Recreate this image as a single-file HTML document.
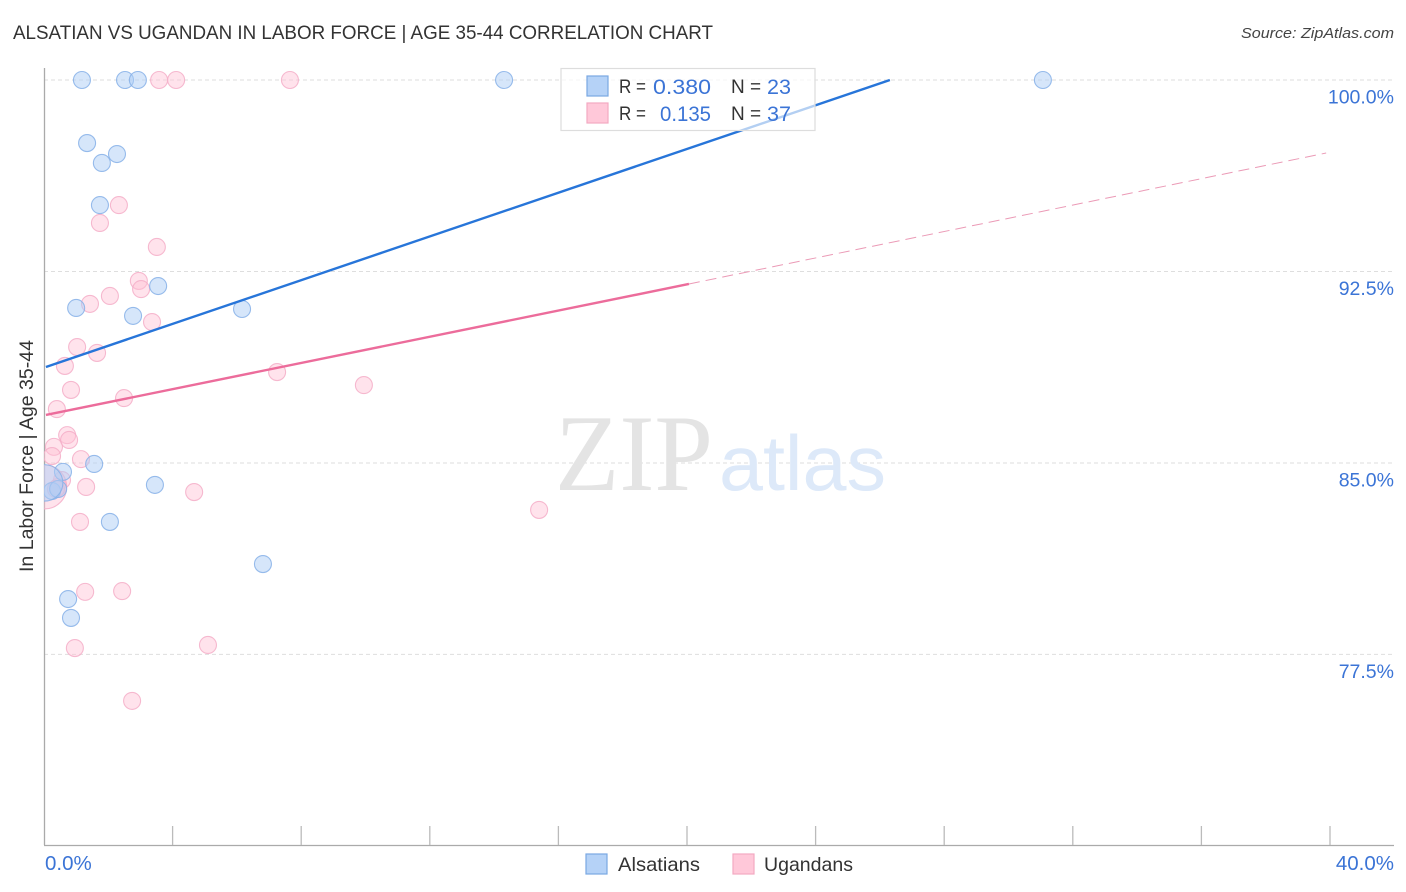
<!DOCTYPE html>
<html>
<head>
<meta charset="utf-8">
<title>Alsatian vs Ugandan in Labor Force | Age 35-44 Correlation Chart</title>
<style>
html,body{margin:0;padding:0;background:#fff;}
body{width:1406px;height:892px;overflow:hidden;}
svg{display:block;}
text{font-family:"Liberation Sans",sans-serif;}
</style>
</head>
<body>
<svg id="chart" width="1406" height="892" viewBox="0 0 1406 892" xmlns="http://www.w3.org/2000/svg">
  <defs>
    <clipPath id="plot-clip"><rect x="44" y="60" width="1350" height="785"></rect></clipPath>
  </defs>
  <text x="13" y="39" font-size="19" fill="#333" textLength="700" lengthAdjust="spacingAndGlyphs">ALSATIAN VS UGANDAN IN LABOR FORCE | AGE 35-44 CORRELATION CHART</text>
  <text x="1241" y="38" font-size="15" font-style="italic" fill="#444" textLength="153" lengthAdjust="spacingAndGlyphs">Source: ZipAtlas.com</text>

  <g id="grid"></g>

  <g>
    <text x="555" y="490" font-size="109" fill="#e4e4e4" style="font-family:'Liberation Serif',serif" textLength="158" lengthAdjust="spacingAndGlyphs">ZIP</text>
    <text x="719" y="490" font-size="78" fill="#dde9f9" textLength="167" lengthAdjust="spacingAndGlyphs">atlas</text>
  </g>

  <g id="axes">
    <line x1="44.5" y1="68" x2="44.5" y2="845" stroke="#aaa" stroke-width="1.3"></line>
    <line x1="44" y1="845.5" x2="1394" y2="845.5" stroke="#aaa" stroke-width="1.3"></line>
  </g>
  <g id="x-ticks"></g>
  <g id="y-labels"></g>
  <g id="x-labels"></g>

  <text transform="translate(33,572) rotate(-90)" font-size="19" fill="#333" textLength="232" lengthAdjust="spacingAndGlyphs">In Labor Force | Age 35-44</text>

  <g id="points" clip-path="url(#plot-clip)"></g>
  <g id="trends" clip-path="url(#plot-clip)"></g>

  <g>
    <rect x="561" y="68.5" width="254" height="62" fill="#fff" fill-opacity="0.65" stroke="#ddd" stroke-width="1.2"></rect>
    <rect x="587" y="76" width="21" height="20" fill="#b5d2f7" stroke="#7aa8e2" stroke-width="1.2"></rect>
    <rect x="587" y="103" width="21" height="20" fill="#ffc8d9" stroke="#f2a9c2" stroke-width="1.2"></rect>
    <text x="619" y="93" font-size="19" fill="#333" textLength="27" lengthAdjust="spacingAndGlyphs">R =</text>
    <text x="653" y="94" font-size="21" fill="#3b74d6" textLength="58" lengthAdjust="spacingAndGlyphs">0.380</text>
    <text x="731" y="93" font-size="19" fill="#333">N =</text>
    <text x="767" y="94" font-size="21" fill="#3b74d6" textLength="24" lengthAdjust="spacingAndGlyphs">23</text>
    <text x="619" y="120" font-size="19" fill="#333" textLength="27" lengthAdjust="spacingAndGlyphs">R =</text>
    <text x="660" y="121" font-size="21" fill="#3b74d6" textLength="51" lengthAdjust="spacingAndGlyphs">0.135</text>
    <text x="731" y="120" font-size="19" fill="#333">N =</text>
    <text x="767" y="121" font-size="21" fill="#3b74d6" textLength="24" lengthAdjust="spacingAndGlyphs">37</text>
  </g>

  <g>
    <g>
      <rect x="586" y="854" width="21" height="20" fill="#b5d2f7" stroke="#7aa8e2" stroke-width="1.2"></rect>
      <text x="618" y="871" font-size="19.5" fill="#333" textLength="82" lengthAdjust="spacingAndGlyphs">Alsatians</text>
    </g>
    <g>
      <rect x="733" y="854" width="21" height="20" fill="#ffc8d9" stroke="#f2a9c2" stroke-width="1.2"></rect>
      <text x="764" y="871" font-size="19.5" fill="#333" textLength="89" lengthAdjust="spacingAndGlyphs">Ugandans</text>
    </g>
  </g>
</svg>
<script>
// Axis tick values and labels
const xTickValues = [4, 8, 12, 16, 20, 24, 28, 32, 36, 40];
const xEndLabels = ["0.0%", "40.0%"];
const yTickValues = [100, 92.5, 85, 77.5];
const yTickLabels = ["100.0%", "92.5%", "85.0%", "77.5%"];

// Alsatians series (x = percent share, y = in labor force %)
const alsatianX = [1.18, 2.52, 2.92, 14.31, 31.07, 1.34, 1.80, 2.27, 1.74, 1.00, 3.55, 2.77, 6.16, 1.56, 3.45, 0.59, 0.25, 0.44, 2.05, 6.81, 0.75, 0.84, 0.02];
const alsatianY = [100, 100, 100, 100, 100, 97.53, 96.75, 97.10, 95.10, 91.07, 91.93, 90.76, 91.03, 84.96, 84.14, 84.65, 83.90, 83.98, 82.69, 81.04, 79.67, 78.93, 84.22];
const alsatianWeight = [1, 1, 1, 1, 1, 1, 1, 1, 1, 1, 1, 1, 1, 1, 1, 1, 1, 1, 1, 1, 1, 1, 4.6];

// Ugandans series
const ugandanX = [3.58, 4.11, 7.65, 2.33, 1.74, 3.51, 2.95, 3.02, 2.05, 1.43, 3.36, 1.03, 1.65, 0.65, 7.25, 0.84, 9.95, 2.49, 0.40, 0.72, 0.78, 0.31, 0.25, 1.15, 0.56, 1.31, 4.67, 0.44, 1.12, 15.40, 1.28, 2.43, 5.10, 0.96, 2.74, 0.02, 0.37];
const ugandanY = [100, 100, 100, 95.10, 94.40, 93.46, 92.13, 91.81, 91.54, 91.23, 90.52, 89.54, 89.31, 88.80, 88.56, 87.86, 88.05, 87.54, 87.11, 86.09, 85.90, 85.63, 85.27, 85.15, 84.33, 84.06, 83.86, 84.06, 82.69, 83.16, 79.95, 79.98, 77.87, 77.75, 75.68, 84.06, 83.98];
const ugandanWeight = [1, 1, 1, 1, 1, 1, 1, 1, 1, 1, 1, 1, 1, 1, 1, 1, 1, 1, 1, 1, 1, 1, 1, 1, 1, 1, 1, 1, 1, 1, 1, 1, 1, 1, 1, 6.7, 1];

// Trend lines: [start, end] in data units
const alsatianTrendX = [0.06, 26.31];
const alsatianTrendY = [88.76, 100];
const ugandanTrendX = [0.06, 20.06];
const ugandanTrendY = [86.88, 92.01];
const ugandanForecastX = [20.06, 39.88];
const ugandanForecastY = [92.01, 97.14];

const NS = 'http://www.w3.org/2000/svg';
function xScale(v) { return 44 + v * 32.15; }
function yScale(v) { return 80 + (100 - v) * 25.53; }
function make(tag, parent, attrs) {
  const el = document.createElementNS(NS, tag);
  for (const k in attrs) el.setAttribute(k, attrs[k]);
  parent.appendChild(el);
  return el;
}

const gridG = document.getElementById('grid');
const ticksG = document.getElementById('x-ticks');
const yLabelsG = document.getElementById('y-labels');
const xLabelsG = document.getElementById('x-labels');
const pointsG = document.getElementById('points');
const trendsG = document.getElementById('trends');

yTickValues.forEach(function (v, i) {
  const ln = make('line', gridG, {x1: 44, x2: 1394, y1: yScale(v), y2: yScale(v), stroke: '#dedede', 'stroke-width': 1, 'stroke-dasharray': '4 3'});
  
  
  const t = make('text', yLabelsG, {x: 1394, y: yScale(v) + 23.5, 'text-anchor': 'end', 'font-size': 19.5, fill: '#3b74d6'});
  
  
  t.textContent = yTickLabels[i];
});

xTickValues.forEach(function (v) {
  const ln = make('line', ticksG, {x1: xScale(v), x2: xScale(v), y1: 826, y2: 845, stroke: '#bbb', 'stroke-width': 1.3});
  
  
});

const xLabelStart = make('text', xLabelsG, {x: 45, y: 870, 'font-size': 20.5, fill: '#3b74d6'});


xLabelStart.textContent = xEndLabels[0];
const xLabelEnd = make('text', xLabelsG, {x: 1394, y: 870, 'text-anchor': 'end', 'font-size': 20.5, fill: '#3b74d6'});


xLabelEnd.textContent = xEndLabels[1];

function rad(w) { return 8.5 * Math.sqrt(w); }

ugandanX.forEach(function (x, i) {
  const c = make('circle', pointsG, {cx: xScale(x), cy: yScale(ugandanY[i]), r: rad(ugandanWeight[i]), fill: '#ffc0d4', 'fill-opacity': 0.45, stroke: '#f5aec8', 'stroke-opacity': 0.85, 'stroke-width': 1.1});
  
  
});
alsatianX.forEach(function (x, i) {
  const c = make('circle', pointsG, {cx: xScale(x), cy: yScale(alsatianY[i]), r: rad(alsatianWeight[i]), fill: '#aecdf5', 'fill-opacity': 0.5, stroke: '#86b0e8', 'stroke-opacity': 0.85, 'stroke-width': 1.1});
  
  
});

const blueTrend = make('line', trendsG, {x1: xScale(alsatianTrendX[0]), y1: yScale(alsatianTrendY[0]), x2: xScale(alsatianTrendX[1]), y2: yScale(alsatianTrendY[1]), stroke: '#2775d9', 'stroke-width': 2.4});


const pinkTrend = make('line', trendsG, {x1: xScale(ugandanTrendX[0]), y1: yScale(ugandanTrendY[0]), x2: xScale(ugandanTrendX[1]), y2: yScale(ugandanTrendY[1]), stroke: '#ec6c9b', 'stroke-width': 2.4});


const pinkForecast = make('line', trendsG, {x1: xScale(ugandanForecastX[0]), y1: yScale(ugandanForecastY[0]), x2: xScale(ugandanForecastX[1]), y2: yScale(ugandanForecastY[1]), stroke: '#eb9ab6', 'stroke-width': 1, 'stroke-dasharray': '11 6'});


</script>
</body>
</html>
